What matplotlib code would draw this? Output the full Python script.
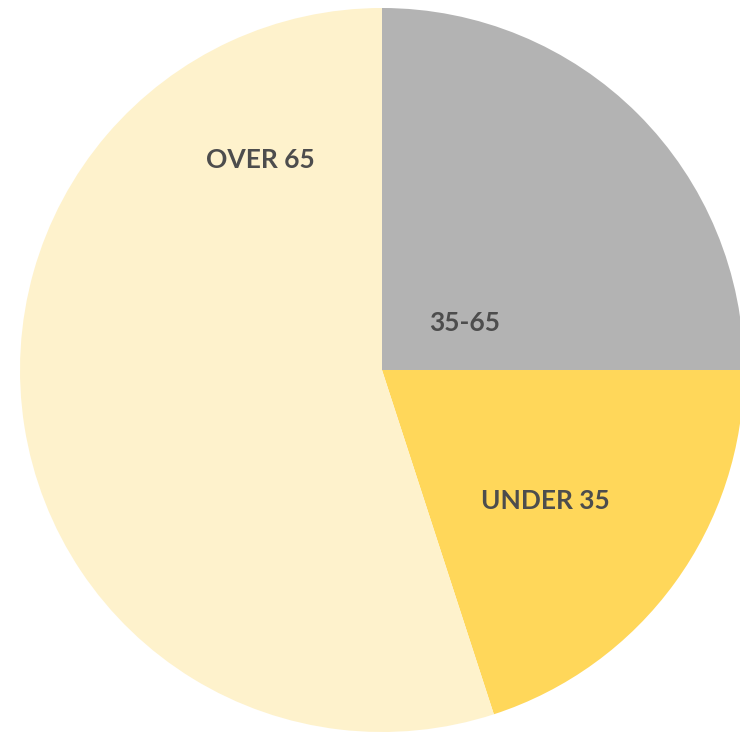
import matplotlib.pyplot as plt

groups = ['35-65', 'UNDER 35', 'OVER 65']
shares = [25, 20, 55]
colors = ['#b3b3b3', '#ffd75a', '#fef2cc']
# label anchor points in pie coordinates (radius 1)
label_pos = [(0.229, 0.13), (0.45, -0.362), (-0.337, 0.58)]

fig = plt.figure(figsize=(7.4, 7.32), dpi=100)
ax = fig.add_axes([20 / 740, 0, 724 / 740, 724 / 732])
ax.pie(shares, colors=colors, startangle=90, counterclock=False,
       radius=1, wedgeprops=dict(linewidth=0))
for name, (tx, ty) in zip(groups, label_pos):
    ax.text(tx, ty, name, ha='center', va='center', fontsize=19,
            fontweight='bold', family='Lato', color='#4d4d4d')
ax.set_xlim(-1, 1)
ax.set_ylim(-1, 1)
ax.axis('off')
fig.savefig('out.png', dpi=100)
